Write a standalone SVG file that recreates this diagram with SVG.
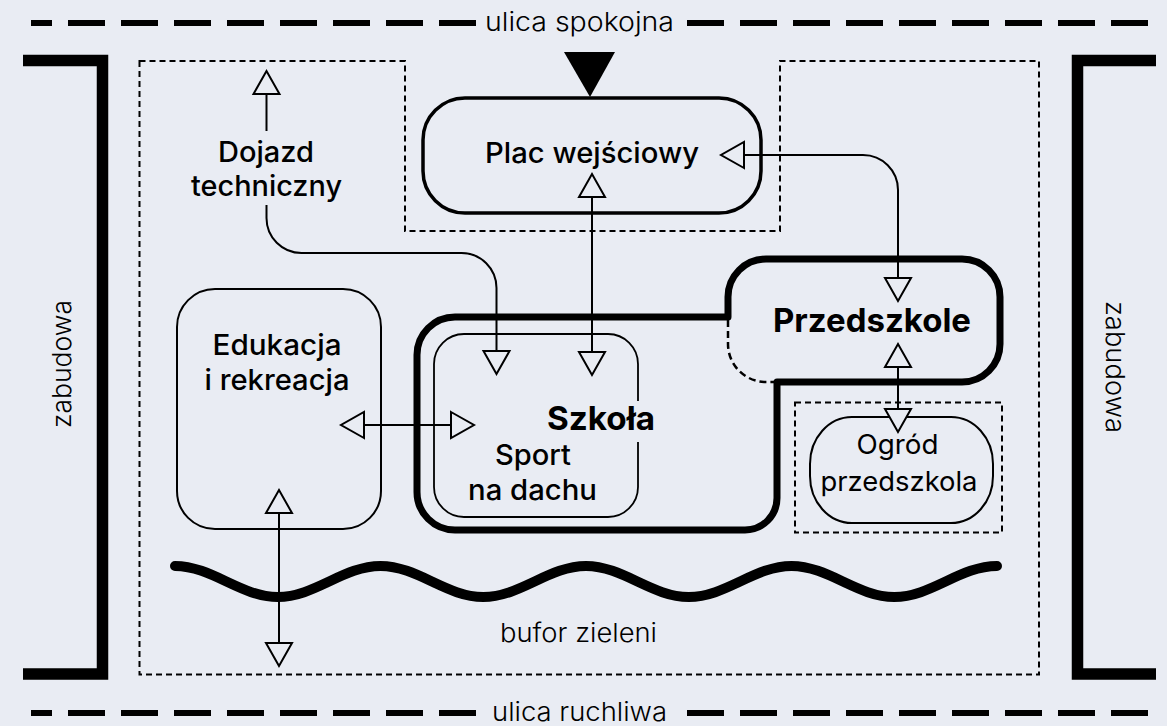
<svg xmlns="http://www.w3.org/2000/svg" width="1167" height="726" viewBox="0 0 1167 726">
<style>
.t{font-family:Inter,'Liberation Sans',sans-serif;fill:#000;text-anchor:middle}
.light{font-weight:300;font-size:26px}
.med{font-weight:500;font-size:28.5px}
.bold{font-weight:700;font-size:33px}
.reg{font-weight:400;font-size:27px}
.street{fill:none;stroke:#000;stroke-width:6;stroke-dasharray:37 16}
.bracket{fill:none;stroke:#000;stroke-width:11.5;stroke-linejoin:miter}
.zone{fill:none;stroke:#000;stroke-width:2;stroke-dasharray:6 4}
.conn{fill:none;stroke:#000;stroke-width:2}
.thick{fill:none;stroke:#000;stroke-width:7;stroke-linejoin:round}
.thin{fill:none;stroke:#000;stroke-width:2}
</style>
<defs>
<marker id="a" viewBox="0 0 25 28" refX="1" refY="14" markerWidth="25" markerHeight="28" markerUnits="userSpaceOnUse" orient="auto-start-reverse" overflow="visible">
<path d="M1,1 L24,14 L1,27 Z" fill="#e9ecf3" stroke="#000" stroke-width="2"/>
</marker>
</defs>
<rect x="0" y="0" width="1167" height="726" fill="#e9ecf3"/>

<g id="context">
<path class="street" d="M476,23 H31"/>
<path class="street" d="M687,23 H1148"/>
<text class="t light" x="579.5" y="31" textLength="189" lengthAdjust="spacingAndGlyphs">ulica spokojna</text>
<path class="street" d="M476,713 H31"/>
<path class="street" d="M687,713 H1148"/>
<text class="t light" x="579.5" y="721" textLength="175" lengthAdjust="spacingAndGlyphs">ulica ruchliwa</text>
<path class="bracket" d="M23,60.5 H102.5 V674 H23"/>
<path class="bracket" d="M1156,60.5 H1077.5 V674 H1156"/>
<text class="t light" transform="translate(71,364) rotate(-90)" textLength="128" lengthAdjust="spacingAndGlyphs">zabudowa</text>
<text class="t light" transform="translate(1106,367) rotate(90)" textLength="132" lengthAdjust="spacingAndGlyphs">zabudowa</text>
<path class="zone" d="M139.5,61 H405 V231 H780 V61 H1039 V674.5 H139.5 Z"/>
<path d="M564,52 H615 L590,97 Z" fill="#000"/>
<path fill="none" stroke="#000" stroke-width="10" stroke-linecap="round" d="M175,566 C212,566 240.75,597 277.75,597 S343.5,566 380.5,566 S446.25,597 483.25,597 S549,566 586,566 S651.75,597 688.75,597 S754.5,566 791.5,566 S857.25,597 894.25,597 S960,566 997,566"/>
<text class="t light" x="578.5" y="642" textLength="157" lengthAdjust="spacingAndGlyphs">bufor zieleni</text>
</g>

<g id="plac">
<rect x="423" y="98" width="338" height="115" rx="42" ry="42" fill="none" stroke="#000" stroke-width="3.5"/>
<text class="t med" x="592" y="163" textLength="214" lengthAdjust="spacingAndGlyphs">Plac wejściowy</text>
</g>

<g id="dojazd">
<text class="t med" x="266" y="162" textLength="96" lengthAdjust="spacingAndGlyphs">Dojazd</text>
<text class="t med" x="266.5" y="196" textLength="151" lengthAdjust="spacingAndGlyphs">techniczny</text>
</g>

<g id="edukacja">
<rect class="thin" x="177" y="289" width="204" height="240" rx="38" ry="38"/>
<text class="t med" x="277" y="355" textLength="129" lengthAdjust="spacingAndGlyphs">Edukacja</text>
<text class="t med" x="277" y="390" textLength="145" lengthAdjust="spacingAndGlyphs">i rekreacja</text>
</g>

<g id="szkola-przedszkole">
<path class="thick" d="M728,317 V297 A38,38 0 0 1 766,259 H962 A38,38 0 0 1 1000,297 V344 A38,38 0 0 1 962,382 H777 V498 A32,32 0 0 1 745,530 H455 A38,38 0 0 1 417,492 V355 A38,38 0 0 1 455,317 Z"/>
<path fill="none" stroke="#000" stroke-width="2.5" stroke-dasharray="7 4" d="M728,320 V344 A38,38 0 0 0 766,382 H774"/>
</g>

<g id="sport">
<rect x="434" y="334" width="204" height="183" rx="30" ry="30" fill="none" stroke="#000" stroke-width="1.8"/>
<rect x="628" y="401" width="20" height="41" fill="#e9ecf3"/>
<text class="t bold" x="601" y="430" textLength="108" lengthAdjust="spacingAndGlyphs">Szkoła</text>
<text class="t med" x="533" y="465" textLength="76" lengthAdjust="spacingAndGlyphs">Sport</text>
<text class="t med" x="532.5" y="500" textLength="129" lengthAdjust="spacingAndGlyphs">na dachu</text>
</g>

<g id="przedszkole">
<text class="t bold" x="872" y="332" textLength="198" lengthAdjust="spacingAndGlyphs">Przedszkole</text>
</g>

<g id="ogrod">
<rect class="zone" x="795" y="402.5" width="207" height="130"/>
<rect class="thin" x="810" y="417" width="183" height="106" rx="42" ry="47"/>
<text class="t reg" x="897.5" y="454" textLength="82" lengthAdjust="spacingAndGlyphs">Ogród</text>
<text class="t reg" x="899" y="490.5" textLength="157" lengthAdjust="spacingAndGlyphs">przedszkola</text>
</g>

<g id="connectors">
<path class="conn" d="M266.5,131 V94" marker-end="url(#a)"/>
<path class="conn" d="M266.5,205 V218 A35,35 0 0 0 301.5,253 H461.5 A35,35 0 0 1 496.5,288 V351" marker-end="url(#a)"/>
<path class="conn" d="M592,197 V352" marker-start="url(#a)" marker-end="url(#a)"/>
<path class="conn" d="M744,155 H863 A35,35 0 0 1 898,190 V278" marker-start="url(#a)" marker-end="url(#a)"/>
<path class="conn" d="M364,425 H451" marker-start="url(#a)" marker-end="url(#a)"/>
<path class="conn" d="M279,513 V643" marker-start="url(#a)" marker-end="url(#a)"/>
<path class="conn" d="M898,367 V409" marker-start="url(#a)" marker-end="url(#a)"/>
</g>
</svg>
